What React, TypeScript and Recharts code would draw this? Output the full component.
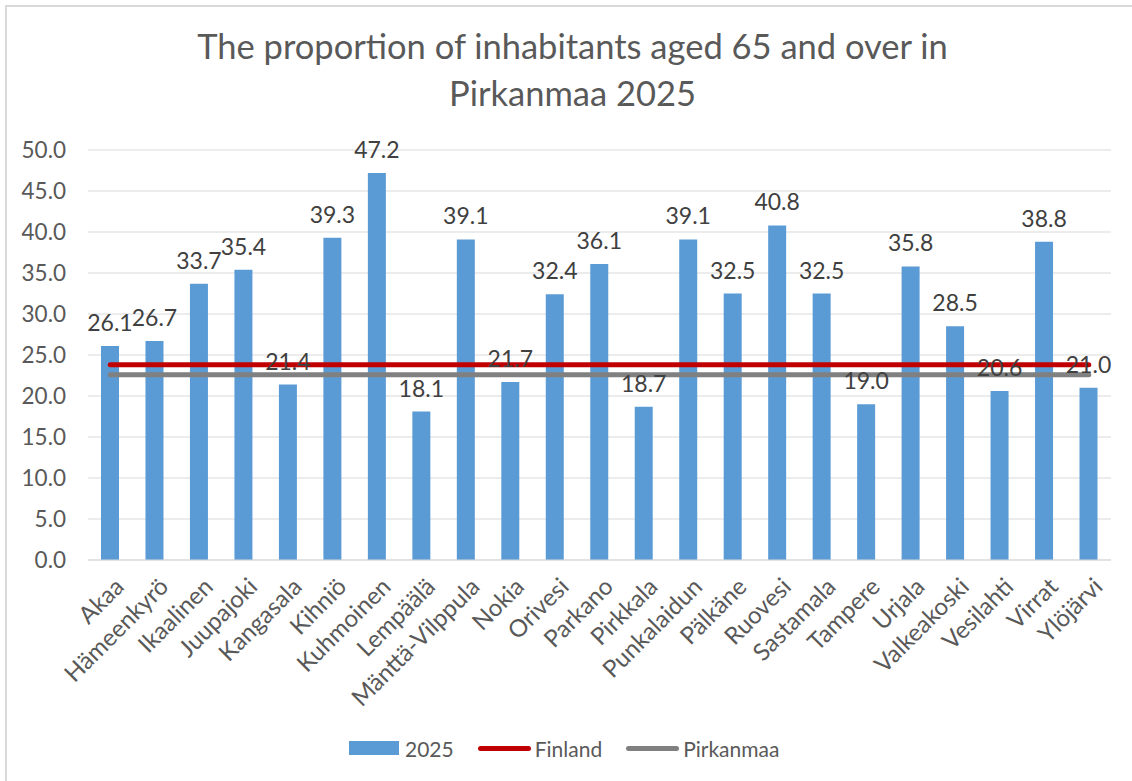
import { ComposedChart, Bar, Line, XAxis, YAxis, CartesianGrid, LabelList } from "recharts"

const municipalities = [
  "Akaa", "Hämeenkyrö", "Ikaalinen", "Juupajoki", "Kangasala", "Kihniö", "Kuhmoinen",
  "Lempäälä", "Mänttä-Vilppula", "Nokia", "Orivesi", "Parkano", "Pirkkala", "Punkalaidun",
  "Pälkäne", "Ruovesi", "Sastamala", "Tampere", "Urjala", "Valkeakoski", "Vesilahti",
  "Virrat", "Ylöjärvi",
]
const share2025 = [
  26.1, 26.7, 33.7, 35.4, 21.4, 39.3, 47.2, 18.1, 39.1, 21.7, 32.4, 36.1, 18.7, 39.1,
  32.5, 40.8, 32.5, 19.0, 35.8, 28.5, 20.6, 38.8, 21.0,
]
// reference levels drawn as flat lines across all municipalities
const finlandShare = 23.8
const pirkanmaaShare = 22.6
const yTicks = [0, 5, 10, 15, 20, 25, 30, 35, 40, 45, 50]

const rows = municipalities.map((name, i) => ({
  name,
  y2025: share2025[i],
  finland: finlandShare,
  pirkanmaa: pirkanmaaShare,
}))

const FONT = "Lato, 'Open Sans', sans-serif"
const BLUE = "#5b9bd5"
const RED = "#c00000"
const GREY = "#808080"

const AngledTick = ({ x, y, payload }: any) => (
  <g transform={`translate(${x + 3},${y + 8})`}>
    <text
      transform="rotate(-45)"
      textAnchor="end"
      dy="0.72em"
      fill="#595959"
      fontSize={24}
      fontFamily={FONT}
    >
      {payload.value}
    </text>
  </g>
)

const LegendItem = ({ kind, color, label }: { kind: "bar" | "line"; color: string; label: string }) => (
  <div style={{ display: "flex", alignItems: "center", marginRight: 24 }}>
    {kind === "bar" ? (
      <div style={{ width: 50, height: 14, background: color, marginRight: 6 }} />
    ) : (
      <div style={{ width: 53, height: 5, background: color, borderRadius: 3, marginRight: 4 }} />
    )}
    <span style={{ fontSize: 21, color: "#595959" }}>{label}</span>
  </div>
)

export default function App() {
  return (
    <div
      style={{
        position: "absolute",
        left: 0,
        top: 0,
        width: 1132,
        height: 781,
        overflow: "hidden",
        background: "#fff",
        fontFamily: FONT,
      }}
    >
      <div
        style={{
          position: "absolute",
          left: 5,
          top: 5,
          width: 1160,
          height: 800,
          border: "2px solid #d9d9d9",
          boxSizing: "border-box",
        }}
      />
      <div
        style={{
          position: "absolute",
          left: 0,
          width: 1145,
          top: 22,
          textAlign: "center",
          fontSize: 34.5,
          lineHeight: "47px",
          color: "#595959",
        }}
      >
        The proportion of inhabitants aged 65 and over in
        <br />
        Pirkanmaa 2025
      </div>
      <div style={{ position: "absolute", left: 0, top: 0 }}>
        <ComposedChart
          width={1132}
          height={781}
          data={rows}
          margin={{ top: 150, right: 21, bottom: 0, left: 8 }}
        >
          <CartesianGrid vertical={false} stroke="#d9d9d9" />
          <XAxis
            dataKey="name"
            interval={0}
            height={221}
            tickLine={false}
            axisLine={{ stroke: "#d9d9d9" }}
            tick={<AngledTick />}
          />
          <XAxis xAxisId="labels" dataKey="name" hide />
          <YAxis
            width={80}
            domain={[0, 50]}
            ticks={yTicks}
            tickFormatter={(v: number) => v.toFixed(1)}
            axisLine={false}
            tickLine={false}
            tickSize={0}
            tickMargin={22}
            tick={{ fill: "#595959", fontSize: 22.5, fontFamily: FONT }}
          />
          <Bar dataKey="y2025" fill={BLUE} barSize={18} isAnimationActive={false} />
          <Line
            dataKey="finland"
            stroke={RED}
            strokeWidth={5}
            strokeLinecap="round"
            dot={false}
            isAnimationActive={false}
          />
          <Line
            dataKey="pirkanmaa"
            stroke={GREY}
            strokeWidth={5}
            strokeLinecap="round"
            dot={false}
            isAnimationActive={false}
          />
          {/* transparent copy of the bars so value labels sit above the lines */}
          <Bar
            xAxisId="labels"
            dataKey="y2025"
            fill="none"
            barSize={18}
            isAnimationActive={false}
          >
            <LabelList
              dataKey="y2025"
              position="top"
              offset={15}
              formatter={(v: any) => Number(v).toFixed(1)}
              fill="#404040"
              fontSize={23}
              fontFamily={FONT}
            />
          </Bar>
        </ComposedChart>
      </div>
      <div
        style={{
          position: "absolute",
          left: 349,
          top: 734,
          display: "flex",
          alignItems: "center",
          height: 28,
        }}
      >
        <LegendItem kind="bar" color={BLUE} label="2025" />
        <LegendItem kind="line" color={RED} label="Finland" />
        <LegendItem kind="line" color={GREY} label="Pirkanmaa" />
      </div>
    </div>
  )
}
